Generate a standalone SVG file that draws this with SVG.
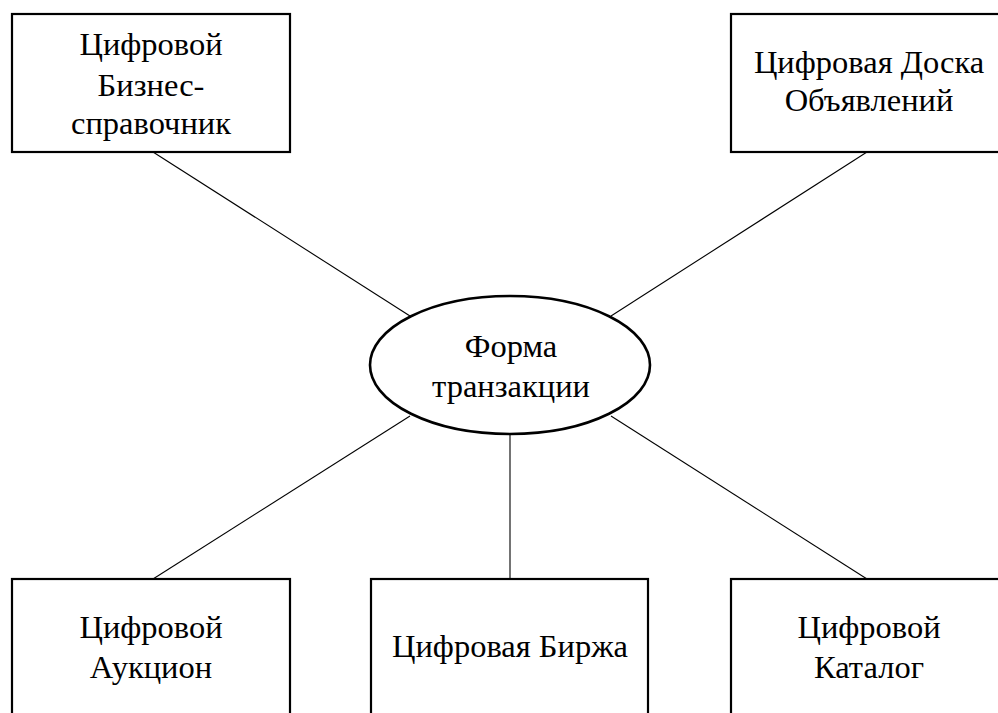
<svg xmlns="http://www.w3.org/2000/svg" width="998" height="713" viewBox="0 0 998 713">
  <style>
    .box { fill: #ffffff; stroke: #000000; stroke-width: 2.2; }
    .hub { fill: #ffffff; stroke: #000000; stroke-width: 2.6; }
    .link { stroke: #000000; stroke-width: 1.1; fill: none; }
    .lbl { font-family: "Liberation Serif", "Times New Roman", serif; font-size: 32.5px; fill: #000000; text-anchor: middle; }
  </style>
  <rect width="998" height="713" fill="#ffffff"/>

  <g id="connectors">
    <line class="link" x1="153" y1="152" x2="410" y2="316"/>
    <line class="link" x1="867" y1="152" x2="611" y2="316"/>
    <line class="link" x1="410" y1="416" x2="153" y2="579"/>
    <line class="link" x1="510" y1="434" x2="510" y2="579"/>
    <line class="link" x1="611" y1="416" x2="867" y2="579"/>
  </g>

  <g id="directory">
    <rect class="box" x="12" y="14" width="278" height="138"/>
    <text class="lbl" x="151" y="55">Цифровой</text>
    <text class="lbl" x="151" y="96">Бизнес-</text>
    <text class="lbl" x="151" y="134">справочник</text>
  </g>

  <g id="board">
    <rect class="box" x="731" y="14" width="280" height="138"/>
    <text class="lbl" x="869" y="73">Цифровая Доска</text>
    <text class="lbl" x="869" y="111">Объявлений</text>
  </g>

  <g id="transaction">
    <ellipse class="hub" cx="510" cy="365" rx="140" ry="69"/>
    <text class="lbl" x="511" y="357">Форма</text>
    <text class="lbl" x="511" y="397">транзакции</text>
  </g>

  <g id="auction">
    <rect class="box" x="12" y="579" width="278" height="150"/>
    <text class="lbl" x="151" y="638">Цифровой</text>
    <text class="lbl" x="151" y="678">Аукцион</text>
  </g>

  <g id="exchange">
    <rect class="box" x="371" y="579" width="277" height="150"/>
    <text class="lbl" x="510" y="657">Цифровая Биржа</text>
  </g>

  <g id="catalog">
    <rect class="box" x="731" y="579" width="280" height="150"/>
    <text class="lbl" x="869" y="638">Цифровой</text>
    <text class="lbl" x="869" y="678">Каталог</text>
  </g>
</svg>
